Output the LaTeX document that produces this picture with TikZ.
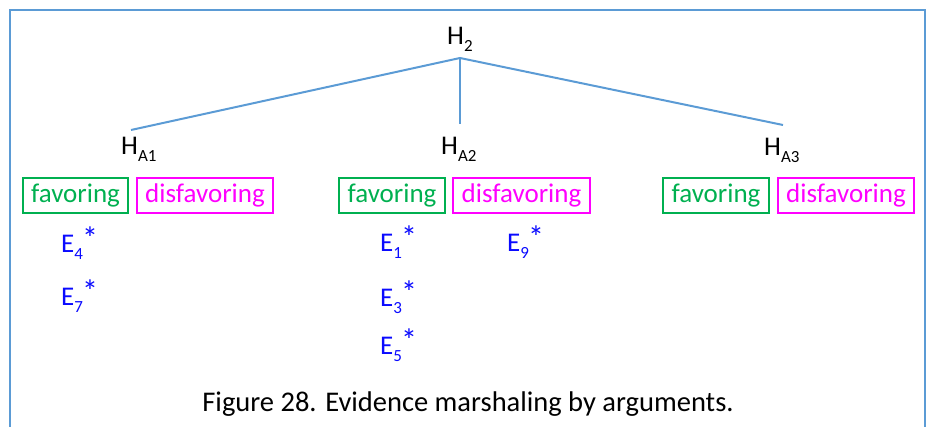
\documentclass[tikz,border=0pt]{standalone}
\usepackage{fontspec}
\setmainfont{Carlito}
\definecolor{linebl}{RGB}{91,155,213}
\definecolor{favgreen}{RGB}{0,176,80}
\definecolor{dismag}{RGB}{255,0,255}
\definecolor{evblue}{RGB}{10,10,255}
\newcommand\mysub[1]{\raisebox{-7pt}{\fontsize{17}{17}\selectfont #1}}
\newcommand\ev[1]{E\mysub{#1}\kern-1pt\raisebox{3pt}{\fontsize{32}{32}\selectfont *}}
\tikzset{
  txt/.style={anchor=base west, inner sep=0pt, font=\fontsize{27}{31}\selectfont},
  evtxt/.style={txt, text=evblue},
  favbox/.style={draw=favgreen, text=favgreen, line width=2pt, inner sep=0pt, minimum height=35pt, font=\fontsize{27}{31}\selectfont},
  disbox/.style={draw=dismag, text=dismag, line width=2pt, inner sep=0pt, minimum height=35pt, font=\fontsize{27}{31}\selectfont},
  conn/.style={draw=linebl, line width=2pt},
}
\begin{document}
\begin{tikzpicture}[x=1pt,y=-1pt]
\useasboundingbox (0,0) rectangle (927,427);
\draw[linebl, line width=2.5pt] (10,430) -- (10,10) -- (925,10) -- (925,430);
% hypothesis labels
\node[txt] (h2) at (447,45) {H\mysub{2}};
\node[txt] (ha1) at (121,155) {H\mysub{A1}};
\node[txt] (ha2) at (441,155) {H\mysub{A2}};
\node[txt] (ha3) at (764,156) {H\mysub{A3}};
% connector ends
\coordinate (root) at (460,58);
\coordinate (e1) at (131,130);
\coordinate (e2) at (460,124);
\coordinate (e3) at (783,125);
\draw[conn] (root) -- (e1);
\draw[conn] (root) -- (e2);
\draw[conn] (root) -- (e3);
% boxes
\node[favbox, minimum width=105pt] (g1) at (75.5,195.5) {favoring};
\node[disbox, minimum width=136pt] (m1) at (205,195.5) {disfavoring};
\node[favbox, minimum width=106pt] (g2) at (392,195.5) {favoring};
\node[disbox, minimum width=137pt] (m2) at (521.5,195.5) {disfavoring};
\node[favbox, minimum width=106pt] (g3) at (716,195.5) {favoring};
\node[disbox, minimum width=136pt] (m3) at (846,195.5) {disfavoring};
% evidence
\node[evtxt] (ev4) at (61,253) {\ev{4}};
\node[evtxt] (ev7) at (61,306) {\ev{7}};
\node[evtxt] (ev1) at (380,252) {\ev{1}};
\node[evtxt] (ev3) at (380,307) {\ev{3}};
\node[evtxt] (ev5) at (380,355) {\ev{5}};
\node[evtxt] (ev9) at (507,252) {\ev{9}};
% caption
\node[anchor=base, inner sep=0pt, font=\fontsize{28.5}{32}\selectfont] (cap) at (468,412) {Figure 28. Evidence marshaling by arguments.};
\end{tikzpicture}
\end{document}
